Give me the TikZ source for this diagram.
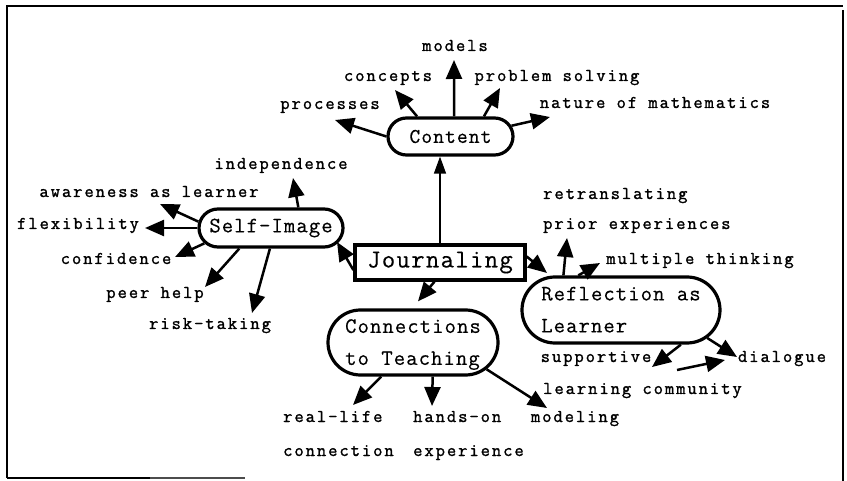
\documentclass[tikz,border=0pt]{standalone}
\usepackage{fontspec}
\newfontfamily\leaffont[LetterSpace=11,FakeBold=1.4]{Latin Modern Mono}
\newfontfamily\hubfont[LetterSpace=5,FakeBold=0.4]{Latin Modern Mono}
\usetikzlibrary{arrows.meta,shapes.misc,calc}

\begin{document}
\begin{tikzpicture}[x=1pt,y=-1pt,
  leaf/.style={font=\leaffont\fontsize{18}{20}\selectfont,
    inner sep=0pt, text height=11pt, text depth=3pt},
  hub/.style={rounded rectangle, draw, line width=3.2pt, inner sep=0pt,
    font=\hubfont\fontsize{22}{32}\selectfont},
  link/.style={line width=2.5pt, -{Triangle[length=19pt,width=16pt]}},
  thinlink/.style={line width=1.4pt, -{Triangle[length=17pt,width=12pt]}},
]
\useasboundingbox (0,0) rectangle (847,481);

% frame
\draw[line width=2.6pt] (7,478) -- (7,6) -- (843,6);
\draw[line width=2.2pt] (843,10) -- (843,481);
\draw[line width=2.4pt] (7,478) -- (150,478);
\draw[line width=1.2pt, black!70] (150,478) -- (245,478);

% central node and hubs
\node[draw, line width=3.2pt, minimum width=170pt, minimum height=35pt,
  inner sep=0pt, font=\hubfont\fontsize{26}{28}\selectfont] (journal) at (440,262.5) {Journaling};
\node[hub, minimum width=125pt, minimum height=37pt, font=\hubfont\fontsize{21}{32}\selectfont]
  (content) at (450.5,136.5) {\makebox[0pt]{Content}};
\node[hub, minimum width=144pt, minimum height=38pt] (self) at (271,228)
  {\makebox[0pt]{Self-Image}};
\node[hub, minimum width=170pt, minimum height=65pt] (teach) at (413,342.5)
  {\makebox[0pt]{\begin{tabular}{@{}l@{}}Connections\\to Teaching\end{tabular}}};
\node[hub, minimum width=198pt, minimum height=66pt] (reflect) at (621,310)
  {\makebox[0pt]{\begin{tabular}{@{}l@{}}Reflection as\\Learner\end{tabular}}};

% content leaves
\node[leaf] (models) at (455,47) {models};
\node[leaf] (concepts) at (388,77) {concepts};
\node[leaf] (problem) at (557,77) {problem solving};
\node[leaf] (processes) at (330,105) {processes};
\node[leaf] (nature) at (655,104) {nature of mathematics};

% self-image leaves
\node[leaf] (indep) at (281,165) {independence};
\node[leaf] (aware) at (149,193) {awareness as learner};
\node[leaf] (flex) at (78,225) {flexibility};
\node[leaf] (confid) at (116,260) {confidence};
\node[leaf] (peer) at (155,294) {peer help};
\node[leaf] (risk) at (210,325) {risk-taking};

% reflection leaves
\node[leaf, anchor=west] (retrans) at (543,195) {retranslating};
\node[leaf, anchor=west] (prior) at (543,225) {prior experiences};
\node[leaf] (multi) at (700,260) {multiple thinking};
\node[leaf] (support) at (596,358) {supportive};
\node[leaf, anchor=west] (community) at (543,390) {learning community};
\node[leaf] (dialog) at (782,358) {dialogue};

% teaching leaves
\node[leaf, anchor=west] (reallife) at (283,418) {real-life};
\node[leaf, anchor=west] (realconn) at (283,452) {connection};
\node[leaf, anchor=west] (handson) at (413,418) {hands-on};
\node[leaf, anchor=west] (handsexp) at (413,452) {experience};
\node[leaf] (modeling) at (575,418) {modeling};

% free arrow between supportive and dialogue
\coordinate (loopfrom) at (677,370);
\coordinate (loopto) at (725,360);

% journaling to hubs
\draw[thinlink] (journal.north) -- (journal.north |- content.south);
\draw[link] (journal.185) -- ($(self)+(66,14)$);
\draw[link] (journal.254) -- ($(teach.north)+(5,-7)$);
\draw[link] (journal.4) -- ($(reflect)+(-74,-37)$);

% content arrows
\draw[link] (content.80) -- ($(models)+(-1,13)$);
\draw[link] (content.149) -- ($(concepts)+(7,13)$);
\draw[link] (content.31) -- ($(problem)+(-57,11)$);
\draw[link] (content.180) -- ($(processes)+(5,15)$);
\draw[link] (content.10) -- ($(nature)+(-105,13)$);

% self-image arrows
\draw[link] (self.37) -- ($(indep)+(12,13)$);
\draw[link] (self.175) -- ($(aware)+(11,11)$);
\draw[link] (self.180) -- ($(flex)+(67,3)$);
\draw[link] (self.193) -- ($(confid)+(59,-3)$);
\draw[link] (self.213) -- ($(peer)+(50,-7)$);
\draw[link] (self.267) -- ($(risk)+(42,-12)$);

% reflection arrows
\draw[link] (reflect.149) -- ($(prior.west)+(24,13)$);
\draw[link] (reflect.141) -- ($(multi)+(-100,3)$);
\draw[link] (reflect.330) -- ($(support)+(56,9)$);
\draw[link] (reflect.342) -- ($(dialog)+(-45,-1)$);
\draw[link] (loopfrom) -- (loopto);

% teaching arrows
\draw[link] (teach.227) -- ($(reallife.west)+(70,-13)$);
\draw[link] (teach.300) -- ($(handson.west)+(19,-12)$);
\draw[link] (teach.340) -- ($(modeling)+(-28,-10)$);
\end{tikzpicture}
\end{document}
